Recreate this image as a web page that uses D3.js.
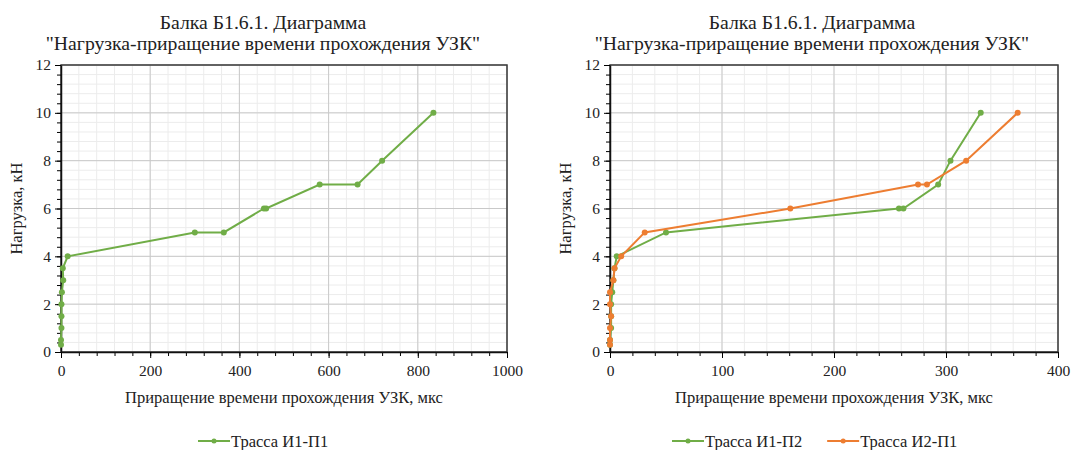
<!DOCTYPE html>
<html>
<head>
<meta charset="utf-8">
<title>Нагрузка-приращение времени</title>
<script src="https://d3js.org/d3.v7.min.js"></script>
<style>
  body { margin: 0; background: #fff; }
</style>
</head>
<body>
<div id="chart"></div>
<script>
// Chart data
var chartTitle1 = "Балка Б1.6.1. Диаграмма";
var chartTitle2 = "\"Нагрузка-приращение времени прохождения УЗК\"";
var xTitle = "Приращение времени прохождения УЗК, мкс";
var yTitle = "Нагрузка, кН";

// left chart: Трасса И1-П1
var leftName = "Трасса И1-П1";
var leftX = [0, 0, 1, 1, 1, 2, 5, 4, 15, 300, 365, 455, 460, 580, 665, 720, 835];
var leftY = [0.3, 0.5, 1, 1.5, 2, 2.5, 3, 3.5, 4, 5, 5, 6, 6, 7, 7, 8, 10];

// right chart: Трасса И1-П2 and Трасса И2-П1
var greenName = "Трасса И1-П2";
var greenX = [0, 0, 1, 1, 1, 2, 3, 4, 6, 50, 258, 262, 293, 304, 331];
var greenY = [0.3, 0.5, 1, 1.5, 2, 2.5, 3, 3.5, 4, 5, 6, 6, 7, 8, 10];
var orangeName = "Трасса И2-П1";
var orangeX = [0, 0, 0, 1, 0, 0, 3, 4, 10, 31, 161, 275, 283, 318, 364];
var orangeY = [0.3, 0.5, 1, 1.5, 2, 2.5, 3, 3.5, 4, 5, 6, 7, 7, 8, 10];

var xTicksLeft = [0, 200, 400, 600, 800, 1000];
var xTicksRight = [0, 100, 200, 300, 400];
var yTicks = [0, 2, 4, 6, 8, 10, 12];

var serif = "'Liberation Serif'";

var svg = d3.select("#chart").append("svg")
  .attr("width", 1076)
  .attr("height", 450);

function zip(xs, ys) {
  return xs.map(function(v, i) { return {x: v, y: ys[i]}; });
}

function label(sel, size) {
  return sel.style("font-family", serif).style("font-size", size + "px").attr("fill", "#222");
}

function drawChart(cfg) {
  var g = svg.append("g");
  var x = d3.scaleLinear().domain(cfg.xDomain).range([cfg.left, cfg.right]);
  var y = d3.scaleLinear().domain([0, 12]).range([cfg.bottom, cfg.top]);

  // minor gridlines
  var xMinor = d3.range(cfg.xDomain[0], cfg.xDomain[1] + 0.001, cfg.xMinor);
  var yMinor = d3.range(0, 12.001, 0.4);
  g.append("g").selectAll("line").data(xMinor).enter().append("line")
    .attr("x1", function(d) { return x(d); }).attr("x2", function(d) { return x(d); })
    .attr("y1", cfg.top).attr("y2", cfg.bottom)
    .attr("stroke", "#ececec").attr("stroke-width", 1);
  g.append("g").selectAll("line").data(yMinor).enter().append("line")
    .attr("y1", function(d) { return y(d); }).attr("y2", function(d) { return y(d); })
    .attr("x1", cfg.left).attr("x2", cfg.right)
    .attr("stroke", "#ececec").attr("stroke-width", 1);

  // major gridlines
  g.append("g").selectAll("line").data(cfg.xTicks).enter().append("line")
    .attr("x1", function(d) { return x(d); }).attr("x2", function(d) { return x(d); })
    .attr("y1", cfg.top).attr("y2", cfg.bottom)
    .attr("stroke", "#c9c9c9").attr("stroke-width", 1);
  g.append("g").selectAll("line").data(yTicks).enter().append("line")
    .attr("y1", function(d) { return y(d); }).attr("y2", function(d) { return y(d); })
    .attr("x1", cfg.left).attr("x2", cfg.right)
    .attr("stroke", "#c9c9c9").attr("stroke-width", 1);

  // plot border
  g.append("rect")
    .attr("x", cfg.left).attr("y", cfg.top)
    .attr("width", cfg.right - cfg.left).attr("height", cfg.bottom - cfg.top)
    .attr("fill", "none").attr("stroke", "#3a3a3a").attr("stroke-width", 1.5);

  // minor ticks
  g.append("g").attr("transform", "translate(0," + cfg.bottom + ")")
    .call(d3.axisBottom(x).tickValues(xMinor).tickSize(4).tickFormat(""))
    .call(function(a) { a.select(".domain").remove(); });
  g.append("g").attr("transform", "translate(" + cfg.left + ",0)")
    .call(d3.axisLeft(y).tickValues(yMinor).tickSize(4).tickFormat(""))
    .call(function(a) { a.select(".domain").remove(); });

  // axes
  g.append("g").attr("transform", "translate(0," + cfg.bottom + ")")
    .call(d3.axisBottom(x).tickValues(cfg.xTicks).tickFormat(d3.format("d"))
      .tickSize(6).tickPadding(7).tickSizeOuter(0))
    .call(function(a) {
      a.attr("font-family", null).attr("font-size", null);
      a.select(".domain").attr("stroke", "#111").attr("stroke-width", 1.5);
      label(a.selectAll(".tick text"), 15.5);
    });
  g.append("g").attr("transform", "translate(" + cfg.left + ",0)")
    .call(d3.axisLeft(y).tickValues(yTicks).tickSize(6).tickPadding(4).tickSizeOuter(0))
    .call(function(a) {
      a.attr("font-family", null).attr("font-size", null);
      a.select(".domain").attr("stroke", "#111").attr("stroke-width", 1.5);
      label(a.selectAll(".tick text"), 15.5);
    });

  // series
  var line = d3.line().x(function(d) { return x(d.x); }).y(function(d) { return y(d.y); });
  cfg.series.forEach(function(s) {
    var pts = zip(s.xs, s.ys);
    g.append("path").datum(pts)
      .attr("fill", "none").attr("stroke", s.color).attr("stroke-width", 2)
      .attr("d", line);
    g.append("g").selectAll("circle").data(pts).enter().append("circle")
      .attr("cx", function(d) { return x(d.x); })
      .attr("cy", function(d) { return y(d.y); })
      .attr("r", 3).attr("fill", s.color);
  });

  // titles
  label(g.append("text"), 19.7).attr("x", cfg.titleX).attr("y", 29)
    .attr("text-anchor", "middle").text(chartTitle1);
  label(g.append("text"), 19.7).attr("x", cfg.titleX).attr("y", 50)
    .attr("text-anchor", "middle").text(chartTitle2);
  label(g.append("text"), 16.5).attr("x", (cfg.left + cfg.right) / 2).attr("y", 403)
    .attr("text-anchor", "middle").text(xTitle);
  label(g.append("text"), 16.5)
    .attr("transform", "translate(" + cfg.yTitleX + "," + ((cfg.top + cfg.bottom) / 2) + ") rotate(-90)")
    .attr("text-anchor", "middle").text(yTitle);

  // legend
  var lx = cfg.legendX;
  cfg.series.forEach(function(s) {
    var lg = g.append("g").attr("transform", "translate(" + lx + ",441)");
    lg.append("line").attr("x1", 0).attr("x2", 32).attr("y1", 0).attr("y2", 0)
      .attr("stroke", s.color).attr("stroke-width", 2);
    lg.append("circle").attr("cx", 16).attr("cy", 0).attr("r", 2.5).attr("fill", s.color);
    var t = label(lg.append("text"), 16.5).attr("x", 33).attr("y", 6).text(s.name);
    lx += 33 + t.node().getComputedTextLength() + 25;
  });
}

drawChart({
  left: 61, right: 507, top: 65, bottom: 352,
  xDomain: [0, 1000], xTicks: xTicksLeft, xMinor: 40,
  titleX: 263, yTitleX: 22, legendX: 198,
  series: [{name: leftName, xs: leftX, ys: leftY, color: "#70ad47"}]
});

drawChart({
  left: 610, right: 1058, top: 65, bottom: 352,
  xDomain: [0, 400], xTicks: xTicksRight, xMinor: 20,
  titleX: 812, yTitleX: 571, legendX: 672,
  series: [
    {name: greenName, xs: greenX, ys: greenY, color: "#70ad47"},
    {name: orangeName, xs: orangeX, ys: orangeY, color: "#ed7d31"}
  ]
});
</script>
</body>
</html>
